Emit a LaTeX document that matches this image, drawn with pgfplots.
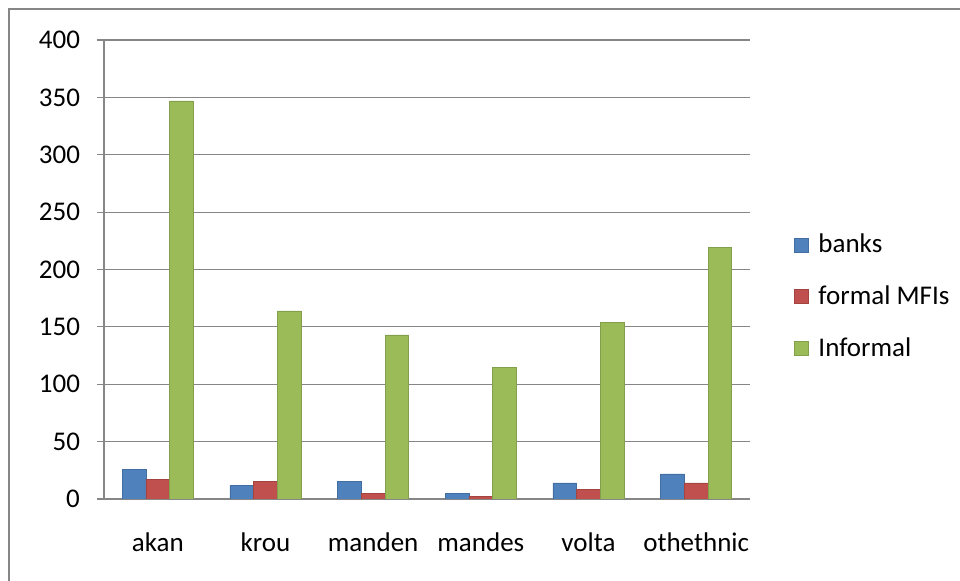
\documentclass[border=0pt]{standalone}
\usepackage{pgfplots}
\pgfplotsset{compat=1.18}
\usepackage{fontspec}
\setmainfont{Carlito}
\definecolor{cblue}{HTML}{4F81BD}
\definecolor{cred}{HTML}{C0504D}
\definecolor{cgreen}{HTML}{9BBB59}
\definecolor{gridc}{HTML}{868686}
\begin{document}
\begin{tikzpicture}[x=0.5pt,y=-0.5pt]
\useasboundingbox (0,0) rectangle (960,581);
\draw[gridc, line width=1.2pt] (9,581) -- (9,9) -- (960,9);
\coordinate (O) at (104,499);
\begin{axis}[
  at={(O)}, anchor=south west,
  scale only axis, width=323pt, height=229.5pt,
  ybar=0pt, bar width=0.22,
  xmin=-0.5, xmax=5.5, ymin=0, ymax=400,
  ytick={0,50,...,400},
  xtick={0,1,2,3,4,5},
  xticklabels={akan,krou,manden,mandes,volta,othethnic},
  major x tick style={draw=none},
  extra x ticks={-0.5,0.5,1.5,2.5,3.5,4.5,5.5},
  extra x tick labels={},
  extra x tick style={grid=none, major tick length=7pt, tick align=outside, tick style={draw=gridc, line width=0.6pt}},
  ymajorgrids, grid style={gridc, line width=0.6pt},
  axis x line*=bottom, axis y line*=left,
  axis line style={gridc, line width=0.6pt},
  ytick style={draw=gridc, line width=0.6pt},
  tick align=outside, major tick length=3.5pt,
  tick label style={font=\fontsize{13.5}{16}\selectfont, text=black},
  /pgf/number format/assume math mode=true,
  xticklabel style={yshift=-10pt},
  yticklabel style={xshift=-5pt},
  legend style={draw=none, fill=none, at={(1.058,0.441)}, anchor=west,
    font=\fontsize{13.5}{16}\selectfont, row sep=11pt,
    legend cell align=left},
  legend image code/.code={\fill[#1] (0pt,-3.5pt) rectangle (7pt,3.5pt); \path (10pt,0pt);},
]
\addplot[fill=cblue, draw=cblue!85!black, line width=0.3pt, bar shift=-0.22] coordinates {(0,25.5) (1,11.6) (2,15) (3,5) (4,14) (5,21.8)};
\addplot[fill=cred, draw=cred!85!black, line width=0.3pt, bar shift=0] coordinates {(0,17.4) (1,15) (2,5.2) (3,2) (4,8.4) (5,14)};
\addplot[fill=cgreen, draw=cgreen!85!black, line width=0.3pt, bar shift=0.22] coordinates {(0,347) (1,164) (2,143) (3,115) (4,154) (5,219)};
\legend{banks,formal MFIs,Informal}
\end{axis}
\end{tikzpicture}
\end{document}
